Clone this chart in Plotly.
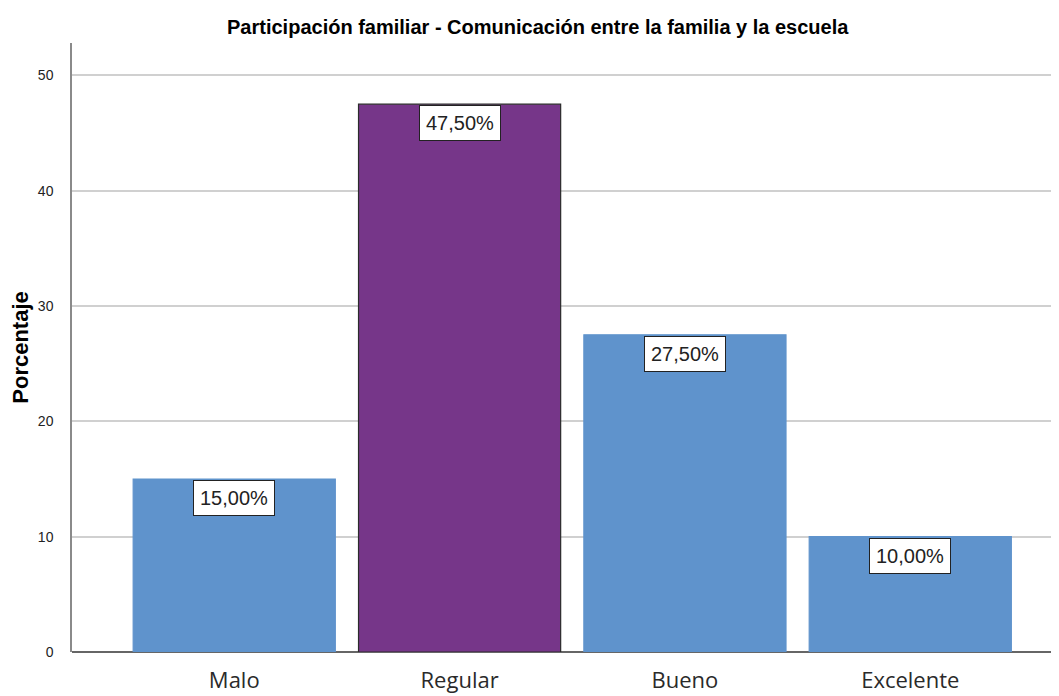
import plotly.graph_objects as go

categories = ["Malo", "Regular", "Bueno", "Excelente"]
percent = [15.0, 47.5, 27.5, 10.0]
labels = ["15,00%", "47,50%", "27,50%", "10,00%"]
bar_colors = ["#5f93cc", "#763689", "#5f93cc", "#5f93cc"]
edge_colors = ["#5f93cc", "#2b2b2b", "#5f93cc", "#5f93cc"]
y_ticks = [0, 10, 20, 30, 40, 50]

sans = "Liberation Sans, Arial"

fig = go.Figure()
fig.add_trace(go.Bar(x=categories, y=percent, width=0.897,
                     marker=dict(color=bar_colors, line=dict(color=edge_colors, width=1.2)),
                     hoverinfo="skip"))

for c, v, t in zip(categories, percent, labels):
    fig.add_annotation(x=c, y=v, text=t, showarrow=False, yanchor="top", yshift=-1,
                       bgcolor="white", bordercolor="#222222", borderwidth=1, borderpad=6,
                       font=dict(family=sans, size=20, color="#222222"))

# page has an 8px body margin, so the figure is 8px smaller than the window
fig.update_layout(
    width=1051, height=688,
    margin=dict(l=64, r=0, t=35, b=44),
    paper_bgcolor="white", plot_bgcolor="white",
    showlegend=False,
    title=dict(text="<b>Participación familiar - Comunicación entre la familia y la escuela</b>",
               x=0.504, xanchor="center", y=0.972, yanchor="middle",
               font=dict(family=sans, size=20, color="black")),
    font=dict(family=sans),
)
fig.update_xaxes(range=[-0.72, 3.66], showgrid=False, showline=False,
                 ticks="outside", ticklen=9, tickcolor="rgba(0,0,0,0)",
                 tickfont=dict(family="Open Sans, Noto Sans", size=22, color="#2a2a2a"))
fig.update_yaxes(range=[0, 52.8], tickvals=y_ticks, showgrid=True, gridcolor="#d0d0d0", gridwidth=1.5,
                 showline=True, linecolor="#8a8a8a", linewidth=1.5,
                 zeroline=True, zerolinecolor="#666666", zerolinewidth=1.5,
                 ticks="outside", ticklen=14, tickcolor="rgba(0,0,0,0)",
                 tickfont=dict(family=sans, size=14, color="#222222"),
                 title=dict(text="<b>Porcentaje</b>", standoff=8,
                            font=dict(family=sans, size=22, color="black")))

fig.write_html("out.html")
